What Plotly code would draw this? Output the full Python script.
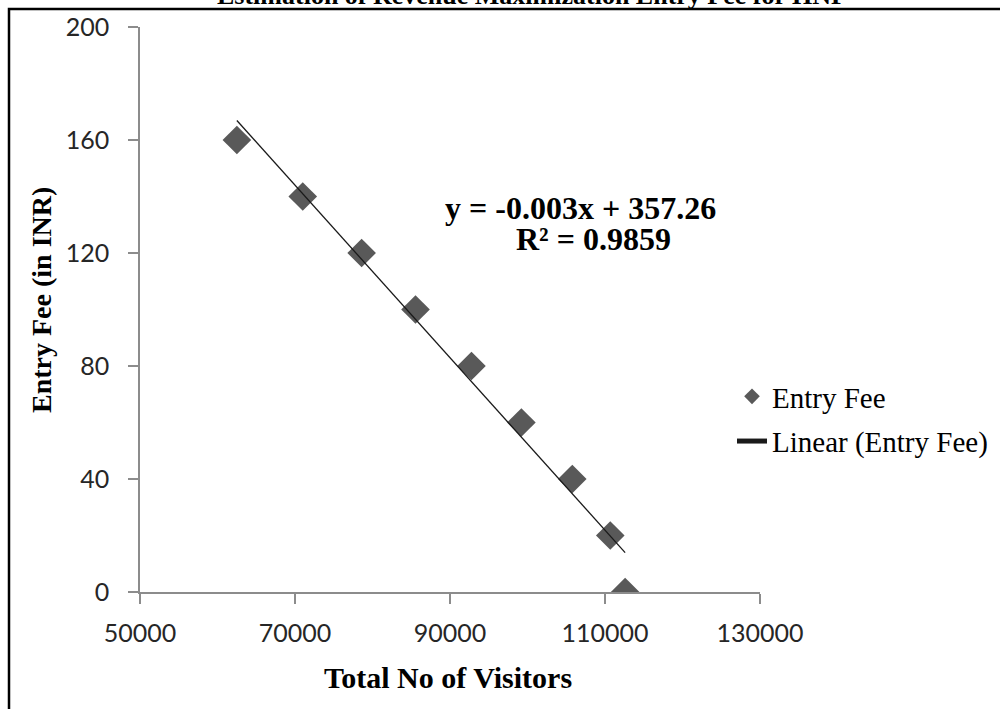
import numpy as np
import plotly.graph_objects as go

# Data
visitors = [62500, 71000, 78600, 85550, 92770, 99210, 105780, 110680, 112600]
entry_fee = [160, 140, 120, 100, 80, 60, 40, 20, 0]
x_ticks = [50000, 70000, 90000, 110000, 130000]
y_ticks = [0, 40, 80, 120, 160, 200]
equation_text = "y = -0.003x + 357.26"
r2_text = "R² = 0.9859"
title_text = "Estimation of Revenue Maximization Entry Fee for HNP"

# Linear trendline computed from data
slope, intercept = np.polyfit(visitors, entry_fee, 1)
trend_x = [min(visitors), max(visitors)]
trend_y = [slope * v + intercept for v in trend_x]

# body margin removed via post_script, so the figure fills the window
W, H = 1000, 709
L, T = 140, 27
R = W - 760
B = H - 592
pw, ph = W - L - R, H - T - B

def px_x(p):  # p in page pixels
    return (p - L) / pw

def px_y(p):
    return (H - B - p) / ph

fig = go.Figure()
fig.add_trace(go.Scatter(
    x=visitors, y=entry_fee, mode="markers", name="Entry Fee",
    marker=dict(symbol="diamond", size=22, color="#595959"),
    legendgroup="a",
))
fig.add_trace(go.Scatter(
    x=trend_x, y=trend_y, mode="lines", name="Linear (Entry Fee)",
    line=dict(color="#1a1a1a", width=1.3),
    legendgroup="b",
))

tickfont = dict(family="Lato, Open Sans, sans-serif", size=25, color="#262626")
fig.update_xaxes(
    range=[50000, 130000], tickvals=x_ticks, ticktext=[str(v) for v in x_ticks],
    showgrid=False, zeroline=False, showline=True, linecolor="#8c8c8c", linewidth=1.5,
    ticks="outside", ticklen=10, tickcolor="#8c8c8c", tickwidth=1.5,
    tickfont=tickfont, ticklabelstandoff=8,
)
fig.update_yaxes(
    range=[0, 200], tickvals=y_ticks,
    showgrid=False, zeroline=False, showline=True, linecolor="#8c8c8c", linewidth=1.5,
    ticks="outside", ticklen=10, tickcolor="#8c8c8c", tickwidth=1.5,
    tickfont=tickfont, ticklabelstandoff=14,
)

serif = "Liberation Serif, Times New Roman, serif"
annotations = [
    dict(text="<b>" + equation_text + "</b>", x=px_x(580), y=px_y(208),
         font=dict(family=serif, size=32, color="#000")),
    dict(text="<b>" + r2_text + "</b>", x=px_x(593), y=px_y(239),
         font=dict(family=serif, size=32, color="#000")),
    dict(text="<b>Entry Fee (in INR)</b>", x=px_x(41), y=px_y(300), textangle=-90,
         font=dict(family=serif, size=28, color="#000")),
    dict(text="<b>Total No of Visitors</b>", x=px_x(448), y=px_y(677),
         font=dict(family=serif, size=30, color="#000")),
    dict(text="<b>" + title_text + "</b>", x=px_x(532), y=px_y(-4),
         font=dict(family=serif, size=26, color="#000")),
]
for a in annotations:
    a.update(xref="paper", yref="paper", showarrow=False, xanchor="center", yanchor="middle")

fig.update_layout(
    width=W, height=H,
    margin=dict(l=L, r=R, t=T, b=B, autoexpand=False),
    paper_bgcolor="white", plot_bgcolor="white",
    showlegend=True,
    legend=dict(
        x=px_x(732), y=px_y(371), xanchor="left", yanchor="top",
        font=dict(family=serif, size=29, color="#000"),
        itemsizing="constant", tracegroupgap=4, traceorder="grouped",
        bgcolor="rgba(0,0,0,0)",
    ),
    annotations=annotations,
    shapes=[dict(type="rect", xref="paper", yref="paper",
                 x0=px_x(9), x1=px_x(1100), y0=px_y(800), y1=px_y(9),
                 line=dict(color="#000", width=2.5), fillcolor="rgba(0,0,0,0)",
                 layer="above")],
)

fig.write_html(
    "out.html",
    config={"displayModeBar": False},
    post_script="document.body.style.margin='0';document.body.style.overflow='hidden';",
)
